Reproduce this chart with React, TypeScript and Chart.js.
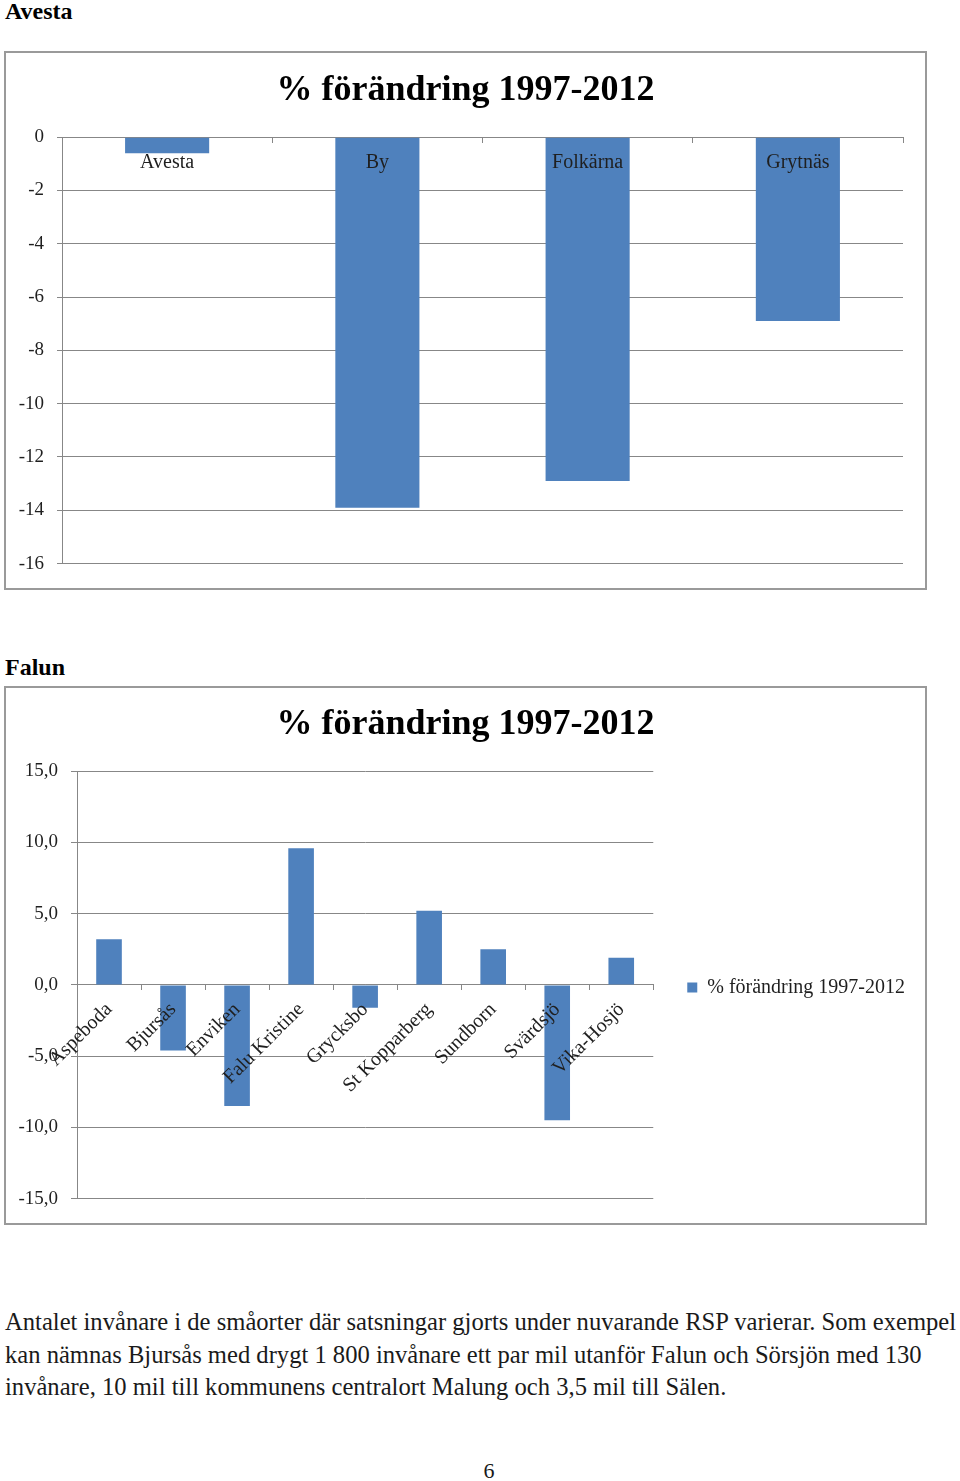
import React, { useEffect, useRef } from 'react';
import { Chart, registerables } from 'chart.js';

Chart.register(...registerables);

// ---- data ----
const seriesLabel = '% förändring 1997-2012';

const avestaCategories = ['Avesta', 'By', 'Folkärna', 'Grytnäs'];
const avestaValues = [-0.6, -13.9, -12.9, -6.9];
const avestaTicks = [0, -2, -4, -6, -8, -10, -12, -14, -16];

const falunCategories = [
  'Aspeboda',
  'Bjursås',
  'Enviken',
  'Falu Kristine',
  'Grycksbo',
  'St Kopparberg',
  'Sundborn',
  'Svärdsjö',
  'Vika-Hosjö',
];
const falunValues = [3.2, -4.6, -8.5, 9.6, -1.6, 5.2, 2.5, -9.5, 1.9];
const falunTicks = [15, 10, 5, 0, -5, -10, -15];

const paragraphLines = [
  'Antalet invånare i de småorter där satsningar gjorts under nuvarande RSP varierar. Som exempel',
  'kan nämnas Bjursås med drygt 1 800 invånare ett par mil utanför Falun och Sörsjön med 130',
  'invånare, 10 mil till kommunens centralort Malung och 3,5 mil till Sälen.',
];

// ---- styles ----
const FONT = "'Liberation Serif', 'Times New Roman', serif";
const BAR = '#4F81BD';
const GRID = '#878787';
const TEXT = '#1f1f1f';

function tickSetter(values: number[]) {
  return (scale: any) => {
    scale.ticks = [...values].sort((a, b) => a - b).map((v) => ({ value: v }));
  };
}

function avestaConfig(): any {
  return {
    type: 'bar',
    data: {
      labels: avestaCategories,
      datasets: [
        {
          label: seriesLabel,
          data: avestaValues,
          backgroundColor: BAR,
          borderWidth: 0,
          barPercentage: 0.4,
          categoryPercentage: 1,
          yAxisID: 'y',
        },
      ],
    },
    options: {
      animation: false,
      responsive: false,
      maintainAspectRatio: false,
      layout: { padding: { left: 0, right: 0, top: 0, bottom: 22 } },
      plugins: {
        legend: { display: false },
        tooltip: { enabled: false },
        title: {
          display: true,
          text: seriesLabel,
          color: '#000',
          font: { family: FONT, size: 36, weight: 'bold', lineHeight: 1.2 },
          padding: { top: 16, bottom: 25 },
        },
      },
      scales: {
        x: {
          position: { y: 0 },
          grid: { drawOnChartArea: false, drawTicks: true, tickLength: 5, color: GRID, offset: true },
          border: { color: GRID, width: 1 },
          ticks: {
            color: TEXT,
            font: { family: FONT, size: 20 },
            padding: 9,
            maxRotation: 0,
            minRotation: 0,
            autoSkip: false,
            z: 1,
          },
        },
        y: {
          position: 'left',
          min: -16,
          max: 0,
          afterBuildTicks: tickSetter(avestaTicks),
          afterFit: (s: any) => {
            s.width = 56;
          },
          grid: { color: GRID, tickLength: 5 },
          border: { color: GRID, width: 1 },
          ticks: {
            color: TEXT,
            font: { family: FONT, size: 19 },
            padding: 13,
            callback: (v: any) => String(v),
          },
        },
        // empty right margin so the title stays centred on the whole box
        yRight: {
          position: 'right',
          display: true,
          grid: { display: false },
          border: { display: false },
          ticks: { display: false },
          afterFit: (s: any) => {
            s.width = 22;
          },
        },
      },
    },
  };
}

function falunConfig(): any {
  return {
    type: 'bar',
    data: {
      labels: falunCategories,
      datasets: [
        {
          label: seriesLabel,
          data: falunValues,
          backgroundColor: BAR,
          borderWidth: 0,
          barPercentage: 0.4,
          categoryPercentage: 1,
        },
      ],
    },
    options: {
      animation: false,
      responsive: false,
      maintainAspectRatio: false,
      layout: { padding: { left: 10, right: 10, top: 0, bottom: 22 } },
      plugins: {
        tooltip: { enabled: false },
        title: {
          display: true,
          text: seriesLabel,
          color: '#000',
          font: { family: FONT, size: 36, weight: 'bold', lineHeight: 1.2 },
          padding: { top: 15, bottom: 25 },
        },
        legend: {
          display: true,
          position: 'right',
          fullSize: true,
          maxWidth: 272,
          title: {
            display: true,
            text: ' ',
            font: { family: FONT, size: 10, lineHeight: 1.2 },
            padding: { top: 74, bottom: 0 },
          },
          labels: {
            color: TEXT,
            font: { family: FONT, size: 20 },
            boxWidth: 10,
            boxHeight: 10,
            padding: 34,
          },
        },
      },
      scales: {
        x: {
          position: { y: 0 },
          grid: { drawOnChartArea: false, drawTicks: true, tickLength: 5, color: GRID, offset: true },
          border: { color: GRID, width: 1 },
          ticks: {
            color: TEXT,
            font: { family: FONT, size: 20 },
            padding: 8,
            maxRotation: 45,
            minRotation: 45,
            autoSkip: false,
            z: 1,
          },
        },
        y: {
          min: -15,
          max: 15,
          afterBuildTicks: tickSetter(falunTicks),
          afterFit: (s: any) => {
            s.width = 61;
          },
          grid: { color: GRID, tickLength: 6 },
          border: { color: GRID, width: 1 },
          ticks: {
            color: TEXT,
            font: { family: FONT, size: 19 },
            padding: 13,
            callback: (v: any) => Number(v).toFixed(1).replace('.', ','),
          },
        },
      },
    },
  };
}

function ChartBox(props: { top: number; makeConfig: () => any }) {
  const ref = useRef<HTMLCanvasElement | null>(null);
  useEffect(() => {
    if (!ref.current) return;
    const chart = new Chart(ref.current, props.makeConfig());
    return () => chart.destroy();
  }, []);
  return (
    <div
      style={{
        position: 'absolute',
        left: 4,
        top: props.top,
        width: 919,
        height: 535,
        border: '2px solid #9a9a9a',
        background: '#fff',
      }}
    >
      <canvas ref={ref} width={919} height={535} style={{ display: 'block', width: 919, height: 535 }} />
    </div>
  );
}

export default function App() {
  const heading: React.CSSProperties = {
    position: 'absolute',
    left: 5,
    fontFamily: FONT,
    fontWeight: 'bold',
    fontSize: 24,
    lineHeight: '28px',
    color: '#000',
    whiteSpace: 'nowrap',
  };
  return (
    <div
      style={{
        position: 'absolute',
        left: 0,
        top: 0,
        width: 960,
        height: 1481,
        background: '#fff',
        overflow: 'hidden',
        fontFamily: FONT,
      }}
    >
      <div style={{ ...heading, top: -3 }}>Avesta</div>
      <ChartBox top={51} makeConfig={avestaConfig} />
      <div style={{ ...heading, top: 653 }}>Falun</div>
      <ChartBox top={686} makeConfig={falunConfig} />
      <div
        style={{
          position: 'absolute',
          left: 5,
          top: 1306,
          fontFamily: FONT,
          fontSize: 24.6,
          lineHeight: '32.5px',
          color: '#1a1a1a',
          whiteSpace: 'nowrap',
        }}
      >
        {paragraphLines.map((l, i) => (
          <div key={i}>{l}</div>
        ))}
      </div>
      <div
        style={{
          position: 'absolute',
          left: 0,
          width: 978,
          top: 1458,
          textAlign: 'center',
          fontFamily: FONT,
          fontSize: 22,
          lineHeight: '26px',
          color: '#1a1a1a',
        }}
      >
        6
      </div>
    </div>
  );
}
